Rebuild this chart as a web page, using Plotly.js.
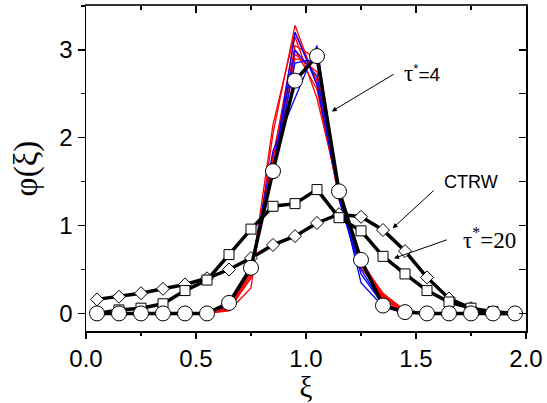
<!DOCTYPE html>
<html>
<head>
<meta charset="utf-8">
<script src="https://cdn.plot.ly/plotly-3.0.1.min.js"></script>
<style>html,body{margin:0;padding:0;background:#fff;}#chart{width:547px;height:403px;}</style>
</head>
<body>
<div id="chart"></div>
<script>
// ---- data ----
var xi = [0.05,0.15,0.25,0.35,0.45,0.55,0.65,0.75,0.85,0.95,1.05,1.15,1.25,1.35,1.45,1.55,1.65,1.75,1.85,1.95];

// tau*=4 averaged (circles)
var tau4 = [0,0,0,0,0,0,0.12,0.52,1.62,2.65,2.93,1.39,0.61,0.09,0.015,0,0,0,0,0];
// tau*=20 (squares)
var tau20 = [0,0.04,0.06,0.11,0.26,0.38,0.67,0.96,1.22,1.25,1.41,1.09,0.94,0.65,0.45,0.26,0.13,0.06,0.02,0.0];
// CTRW (diamonds)
var ctrw = [0.16,0.19,0.23,0.28,0.33,0.40,0.50,0.63,0.78,0.88,1.03,1.13,1.10,0.95,0.71,0.41,0.17,0.06,0.0,0.0];

// individual realizations (red)
var red1 = [0,0,0,0,0,0,0.03,0.29,2.05,3.28,2.60,1.35,0.55,0.20,0.03,0,0,0,0,0];
var red2 = [0,0,0,0,0,0,0.05,0.45,1.75,3.15,2.45,1.40,0.60,0.22,0.02,0,0,0,0,0];
var red3 = [0,0,0,0,0,0,0.08,0.50,1.65,3.05,2.90,1.38,0.58,0.18,0.02,0,0,0,0,0];
var red4 = [0,0,0,0,0,0,0.06,0.48,1.70,2.95,2.75,1.45,0.62,0.15,0.01,0,0,0,0,0];
var red5 = [0,0,0,0,0,0,0.04,0.42,2.15,3.20,2.65,1.30,0.52,0.20,0.04,0,0,0,0,0];
var red6 = [0,0,0,0,0,0,0.07,0.52,1.60,2.90,2.85,1.42,0.57,0.17,0.02,0,0,0,0,0];
var red7 = [0,0,0,0,0,0,0.05,0.40,1.80,3.00,2.55,1.33,0.56,0.23,0.03,0,0,0,0,0];
// individual realizations (blue)
var blue1 = [0,0,0,0,0,0,0.10,0.50,1.60,3.20,2.60,1.35,0.50,0.10,0.01,0,0,0,0,0];
var blue2 = [0,0,0,0,0,0,0.10,0.50,1.85,2.45,3.05,1.30,0.45,0.10,0.01,0,0,0,0,0];
var blue3 = [0,0,0,0,0,0,0.09,0.55,1.65,3.00,2.70,1.40,0.35,0.08,0,0,0,0,0,0];
var blue4 = [0,0,0,0,0,0,0.12,0.50,1.60,2.85,2.90,1.38,0.60,0.12,0.01,0,0,0,0,0];

var xTicks = [0.0,0.5,1.0,1.5,2.0];
var xTickText = ['0.0','0.5','1.0','1.5','2.0'];
var yTicks = [0,1,2,3];
var yTickText = ['0','1','2','3'];

// ---- traces ----
var traces = [];
[red1,red2,red3,red4,red5,red6,red7].forEach(function(s){
  traces.push({x:xi, y:s, mode:'lines', line:{color:'#ff0000', width:1.3}, showlegend:false, hoverinfo:'skip'});
});
[blue1,blue2,blue3,blue4].forEach(function(s){
  traces.push({x:xi, y:s, mode:'lines', line:{color:'#0000ff', width:1.3}, showlegend:false, hoverinfo:'skip'});
});
traces.push({x:xi, y:ctrw, mode:'lines+markers', line:{color:'#000', width:3.5},
  marker:{symbol:'diamond', size:10, color:'#fff', line:{color:'#000', width:1}}, showlegend:false});
traces.push({x:xi, y:tau20, mode:'lines+markers', line:{color:'#000', width:3.5},
  marker:{symbol:'square', size:10, color:'#fff', line:{color:'#000', width:1}}, showlegend:false});
traces.push({x:xi, y:tau4, mode:'lines+markers', line:{color:'#000', width:3.5},
  marker:{symbol:'circle', size:15, color:'#fff', line:{color:'#000', width:1}}, showlegend:false});
// helper for mirrored inner ticks
traces.push({x:[null], y:[null], xaxis:'x2', yaxis:'y2', mode:'markers', showlegend:false, hoverinfo:'skip'});

var sans = 'Liberation Sans';
var serif = 'Liberation Serif';

var layout = {
  width:547, height:403,
  margin:{l:86, r:21, t:6, b:72},
  paper_bgcolor:'#fff', plot_bgcolor:'#fff',
  showlegend:false,
  font:{family:sans, color:'#000'},
  xaxis:{
    range:[0,2], tickvals:xTicks, ticktext:xTickText,
    ticks:'outside', ticklen:6, tickwidth:1.2, tickcolor:'#000',
    minor:{dtick:0.25, ticks:'outside', ticklen:3, tickwidth:1.2, tickcolor:'#000'},
    showline:true, linecolor:'#000', linewidth:1.5, showgrid:false, zeroline:false,
    tickfont:{size:24, family:sans},
    title:{text:'ξ', font:{size:29, family:serif}, standoff:2}
  },
  yaxis:{
    range:[-0.2,3.5], tickvals:yTicks, ticktext:yTickText,
    ticks:'outside', ticklen:7, tickwidth:1.2, tickcolor:'#000',
    minor:{dtick:0.5, ticks:'outside', ticklen:4, tickwidth:1.2, tickcolor:'#000'},
    showline:true, linecolor:'#000', linewidth:1.5, showgrid:false, zeroline:false,
    tickfont:{size:24, family:sans},
    title:{text:'φ(ξ)', font:{size:33, family:serif}, standoff:12}
  },
  xaxis2:{
    overlaying:'x', side:'top', range:[0,2], dtick:0.5, tick0:0,
    ticks:'inside', ticklen:7, tickwidth:1.2, tickcolor:'#000',
    minor:{dtick:0.25, ticks:'inside', ticklen:4, tickwidth:1.2, tickcolor:'#000'},
    showticklabels:false, showline:true, linecolor:'#333', linewidth:2, showgrid:false, zeroline:false
  },
  yaxis2:{
    overlaying:'y', side:'right', range:[-0.2,3.5], dtick:0.5, tick0:0,
    ticks:'inside', ticklen:7, tickwidth:1.2, tickcolor:'#000',
    showticklabels:false, showline:true, linecolor:'#000', linewidth:1.5, showgrid:false, zeroline:false
  },
  annotations:[
    {x:1.117, y:2.30, ax:1.405, ay:2.733, axref:'x', ayref:'y', xref:'x', yref:'y', text:'', showarrow:true, arrowhead:2, arrowsize:1, arrowwidth:1, arrowcolor:'#000'},
    {x:1.394, y:0.970, ax:1.587, ay:1.414, axref:'x', ayref:'y', xref:'x', yref:'y', text:'', showarrow:true, arrowhead:2, arrowsize:1, arrowwidth:1, arrowcolor:'#000'},
    {x:1.400, y:0.627, ax:1.647, ay:0.844, axref:'x', ayref:'y', xref:'x', yref:'y', text:'', showarrow:true, arrowhead:2, arrowsize:1, arrowwidth:1, arrowcolor:'#000'},
    {x:1.435, y:2.73, xref:'x', yref:'y', xanchor:'left', yanchor:'middle', showarrow:false,
      text:'<span style="font-family:Liberation Serif;font-size:23px">τ</span><sup>*</sup>=4', font:{size:19, family:sans}},
    {x:1.750, y:1.494, xref:'x', yref:'y', xanchor:'center', yanchor:'middle', showarrow:false,
      text:'CTRW', font:{size:18, family:sans}},
    {x:1.703, y:0.855, xref:'x', yref:'y', xanchor:'left', yanchor:'middle', showarrow:false,
      text:'τ<sup>*</sup>=20', font:{size:23, family:serif}}
  ]
};

Plotly.newPlot('chart', traces, layout, {staticPlot:true, displayModeBar:false});
</script>
</body>
</html>
